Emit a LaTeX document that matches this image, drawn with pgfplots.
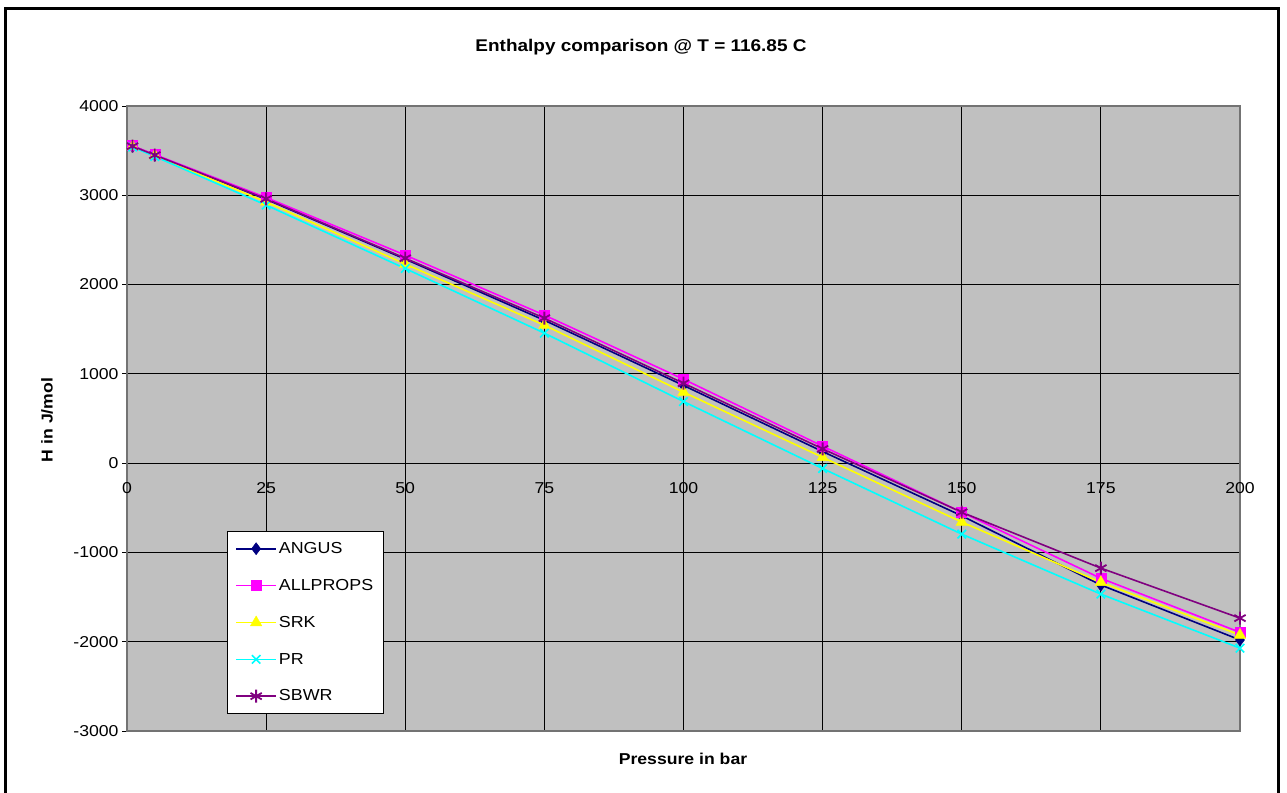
\documentclass[border=0pt]{standalone}
\usepackage{fontspec}
\setmainfont{Liberation Sans}[FakeStretch=1.12]
\usepackage{pgfplots}
\pgfplotsset{compat=1.18}
\usepackage{pgfplotstable}
\definecolor{cAngus}{HTML}{000080}
\definecolor{cAll}{HTML}{FF00FF}
\definecolor{cSrk}{HTML}{FFFF00}
\definecolor{cPr}{HTML}{00FFFF}
\definecolor{cSbwr}{HTML}{800080}
\definecolor{plotbg}{HTML}{C0C0C0}
\pgfplotstableread{
P ANGUS ALLPROPS SRK PR SBWR
1 3550 3555 3545 3540 3550
5 3450 3455 3445 3435 3450
25 2955 2975 2925 2890 2960
50 2285 2330 2230 2180 2295
75 1600 1658 1545 1456 1624
100 870 940 795 690 895
125 130 190 65 -60 160
150 -590 -550 -660 -795 -550
175 -1365 -1290 -1335 -1467 -1176
200 -1980 -1895 -1925 -2072 -1736
}\datatab
\begin{document}
\begin{tikzpicture}
\begin{axis}[
  at={(127bp,62bp)}, anchor=south west,
  scale only axis, width=1113bp, height=625bp,
  xmin=0, xmax=200, ymin=-3000, ymax=4000,
  xtick={0,25,50,75,100,125,150,175,200},
  xticklabels={0,25,50,75,100,125,150,175,200},
  ytick={-3000,-2000,-1000,0,1000,2000,3000,4000},
  yticklabels={-3000,-2000,-1000,0,1000,2000,3000,4000},
  /pgf/number format/assume math mode=true,
  ticklabel style={font=\fontsize{15.8}{17}\selectfont},
  xticklabel style={yshift=257bp},
  xtick style={draw=none},
  ytick pos=left, tick align=outside, major tick length=5bp,
  ytick style={black, line width=0.8bp},
  grid=major,
  major grid style={black, line width=1.25bp},
  axis line style={black!55, line width=1.2bp},
  axis background/.style={fill=plotbg},
  legend style={at={(axis description cs:0.0898,0.32)}, anchor=north west,
    draw=black, line width=0.8bp, fill=white, font=\fontsize{16}{18}\selectfont,
    row sep=20.3bp, inner xsep=8bp, inner ysep=9bp, cells={anchor=west}},
  legend image code/.code={\draw[mark repeat=2,mark phase=2,#1] plot coordinates {(0bp,0bp) (20bp,0bp) (40bp,0bp)};},
  every axis plot/.append style={line width=1.6bp},
]
\addplot[cAngus, mark=diamond*, mark size=6bp, mark options={fill=cAngus, line width=0.5bp}] table[x=P,y=ANGUS] {\datatab};
\addlegendentry{ANGUS}
\addplot[cAll, mark=square*, mark size=5bp, mark options={fill=cAll, line width=0.5bp}] table[x=P,y=ALLPROPS] {\datatab};
\addlegendentry{ALLPROPS}
\addplot[cSrk, mark=triangle*, mark size=6.5bp, mark options={fill=cSrk, line width=0.5bp}] table[x=P,y=SRK] {\datatab};
\addlegendentry{SRK}
\addplot[cPr, mark=x, mark size=6bp, mark options={line width=1.6bp}] table[x=P,y=PR] {\datatab};
\addlegendentry{PR}
\addplot[cSbwr, mark=asterisk, mark size=6.5bp, mark options={line width=1.8bp}] table[x=P,y=SBWR] {\datatab};
\addlegendentry{SBWR}
\end{axis}
\node[font=\bfseries\fontsize{17}{19}\selectfont] at (641bp,746bp) {Enthalpy comparison @ T = 116.85 C};
\node[font=\bfseries\fontsize{15.8}{17}\selectfont] at (683bp,34bp) {Pressure in bar};
\node[font=\bfseries\fontsize{15.8}{17}\selectfont, rotate=90] at (47bp,373bp) {H in J/mol};
\draw[line width=3bp] (5.5bp,-5bp) rectangle (1278.5bp,784.5bp);
\pgfresetboundingbox
\useasboundingbox (0bp,0bp) rectangle (1287bp,793bp);
\end{tikzpicture}
\end{document}
